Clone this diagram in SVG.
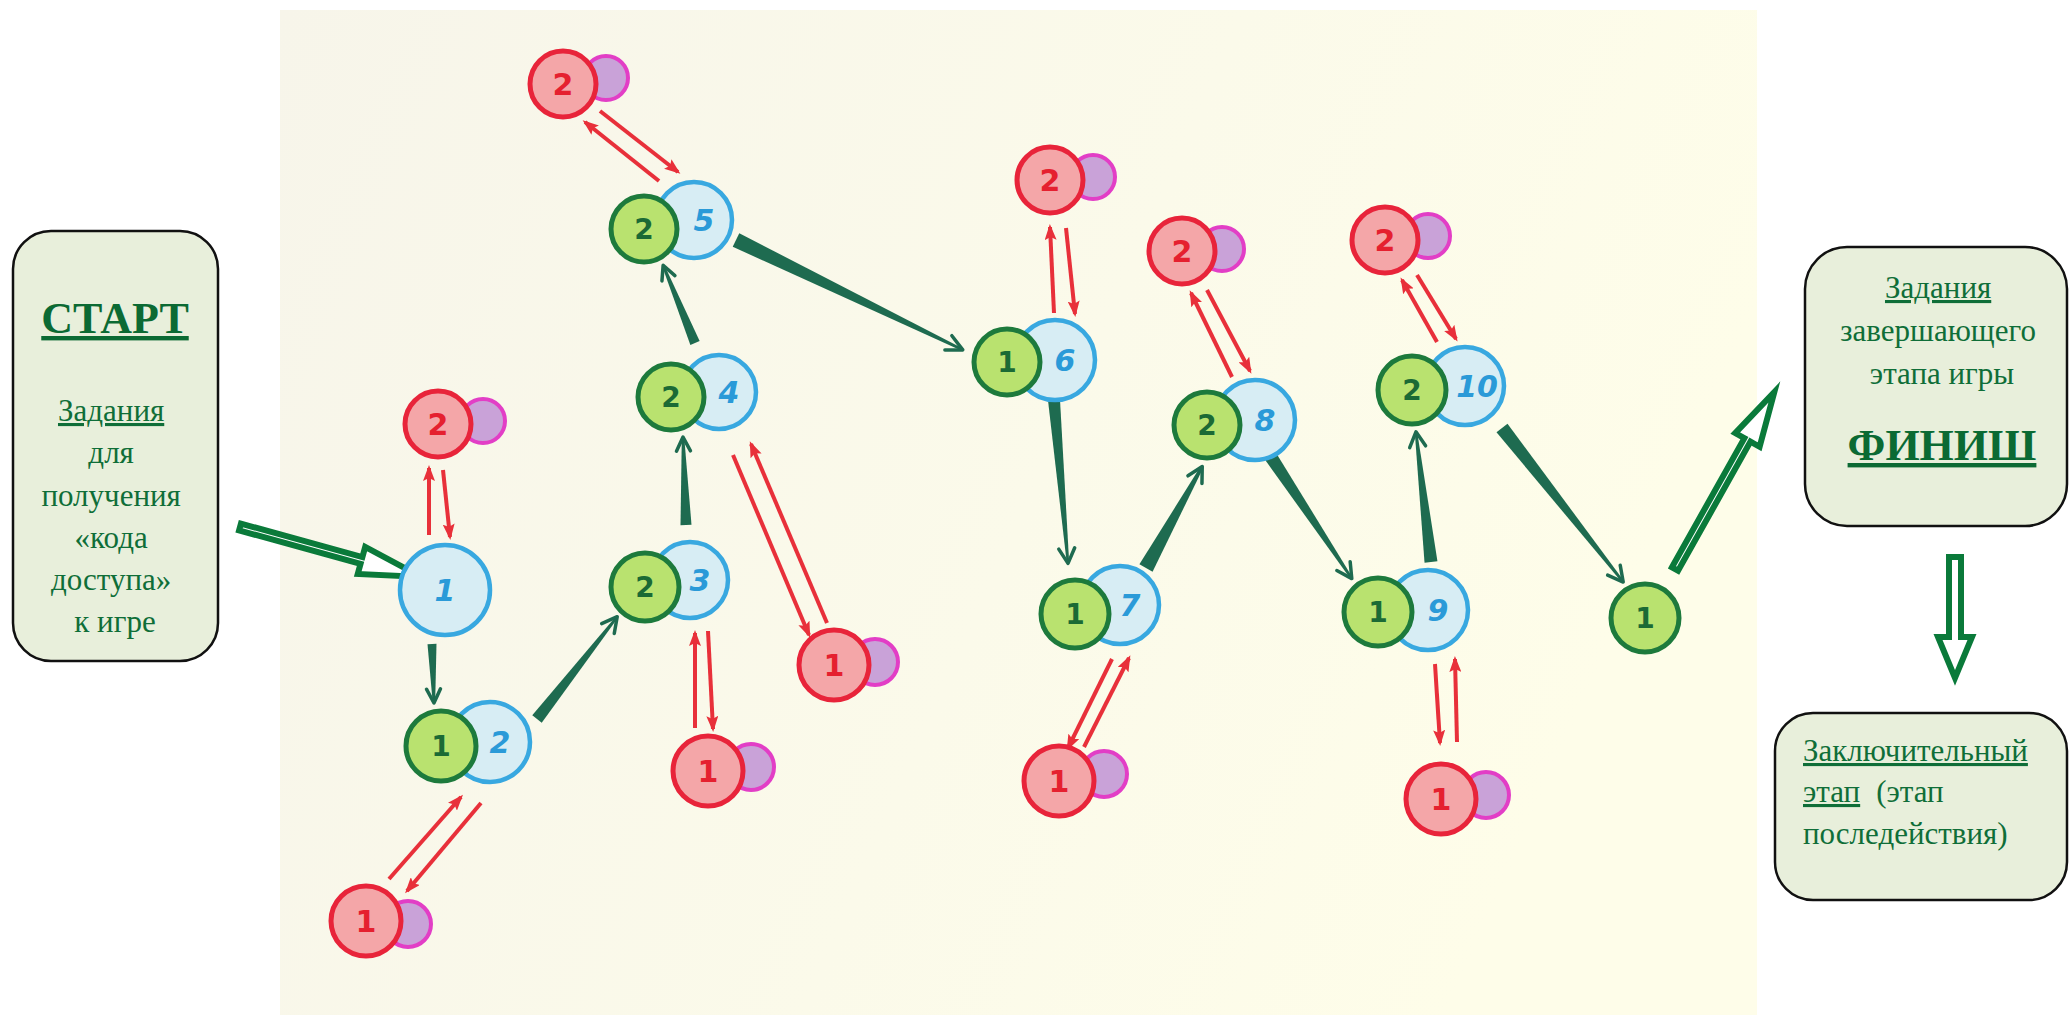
<svg xmlns="http://www.w3.org/2000/svg" width="2069" height="1015" viewBox="0 0 2069 1015">
<style>
.box{fill:#e8efdb;stroke:#111;stroke-width:2.5}
.txt{font-family:"Liberation Serif","Times New Roman",serif;fill:#0f6e38;font-size:31px}
.ttl{font-family:"Liberation Serif","Times New Roman",serif;fill:#0b6a33;font-size:44px;font-weight:bold;text-decoration:underline}
.red{fill:#f4a6a8;stroke:#e8243a;stroke-width:5}
.pur{fill:#c9a2d8;stroke:#e23ec6;stroke-width:4}
.grn{fill:#b9e26f;stroke:#1d7a3c;stroke-width:5}
.blu{fill:#d7edf4;stroke:#38a8e0;stroke-width:4.5}
.nr{font-family:"DejaVu Sans","Liberation Sans",sans-serif;font-weight:bold;font-size:30px;fill:#e5202f;text-anchor:middle}
.ng{font-family:"DejaVu Sans","Liberation Sans",sans-serif;font-weight:bold;font-size:28px;fill:#1b6a35;text-anchor:middle}
.nb{font-family:"DejaVu Sans","Liberation Sans",sans-serif;font-weight:bold;font-style:italic;font-size:30px;fill:#2a9ad8;text-anchor:middle}
.con path{fill:#1e6b50}
.con path.hd{fill:none;stroke:#1e6b50;stroke-width:3.5;stroke-linecap:round;stroke-linejoin:round}
.ra{stroke:#e8303a;stroke-width:4;fill:none;marker-end:url(#rh)}
.ho{fill:#fff;stroke:#0a7a3a;stroke-width:6;stroke-miterlimit:12;stroke-linejoin:miter}
</style>
<defs>
<marker id="rh" markerUnits="userSpaceOnUse" markerWidth="16" markerHeight="12" refX="13" refY="6" orient="auto">
<path d="M0,0 L16,6 L0,12 L3,6 Z" fill="#e8303a"/>
</marker>
<linearGradient id="paper" x1="0" y1="0" x2="1" y2="0.3">
<stop offset="0" stop-color="#f7f5ea"/>
<stop offset="0.6" stop-color="#fbfaea"/>
<stop offset="1" stop-color="#fefde9"/>
</linearGradient>
</defs>
<rect x="0" y="0" width="2069" height="1015" fill="#ffffff"/>
<rect x="280" y="10" width="1477" height="1005" fill="url(#paper)"/>

<g id="start-box">
<rect class="box" x="13" y="231" width="205" height="430" rx="38"/>
<text class="ttl" x="115" y="333" text-anchor="middle">СТАРТ</text>
<text class="txt" text-anchor="middle">
<tspan x="115" y="421" text-decoration="underline">Задания</tspan>
<tspan x="115" y="463">для</tspan>
<tspan x="115" y="506">получения</tspan>
<tspan x="115" y="548">«кода</tspan>
<tspan x="115" y="590">доступа»</tspan>
<tspan x="115" y="632">к игре</tspan>
</text>
</g>

<g id="finish-box">
<rect class="box" x="1805" y="247" width="262" height="279" rx="42"/>
<text class="txt" text-anchor="middle">
<tspan x="1942" y="298" text-decoration="underline">Задания</tspan>
<tspan x="1942" y="341">завершающего</tspan>
<tspan x="1942" y="384">этапа игры</tspan>
</text>
<text class="ttl" x="1942" y="460" text-anchor="middle">ФИНИШ</text>
</g>

<g id="final-stage-box">
<rect class="box" x="1775" y="713" width="292" height="187" rx="38"/>
<text class="txt">
<tspan x="1803" y="761" text-decoration="underline">Заключительный</tspan>
<tspan x="1803" y="802" text-decoration="underline">этап</tspan><tspan dx="16" y="802">(этап</tspan>
<tspan x="1803" y="844">последействия)</tspan>
</text>
</g>

<g id="connectors">
<g class="con">
<g transform="translate(432,644) rotate(88.1)"><path d="M0,-4.5 L59,-1.2 L59,1.2 L0,4.5 Z"/><path class="hd" d="M45,-7 L59,0 L45,7"/></g>
<g transform="translate(537,719) rotate(-51.9)"><path d="M0,-6 L130,-1.2 L130,1.2 L0,6 Z"/><path class="hd" d="M115,-8 L130,0 L115,8"/></g>
<g transform="translate(686,525) rotate(-91.95)"><path d="M0,-5.5 L88,-1.2 L88,1.2 L0,5.5 Z"/><path class="hd" d="M74,-7 L88,0 L74,7"/></g>
<g transform="translate(695,343) rotate(-112.3)"><path d="M0,-5 L84,-1.2 L84,1.2 L0,5 Z"/><path class="hd" d="M70,-7 L84,0 L70,7"/></g>
<g transform="translate(736,240) rotate(25.85)"><path d="M0,-7.5 L252,-1.2 L252,1.2 L0,7.5 Z"/><path class="hd" d="M236,-8 L252,0 L236,8"/></g>
<g transform="translate(1054,400) rotate(85.1)"><path d="M0,-6 L164,-1.2 L164,1.2 L0,6 Z"/><path class="hd" d="M149,-8 L164,0 L149,8"/></g>
<g transform="translate(1146,568) rotate(-61)"><path d="M0,-7.5 L116,-1.5 L116,1.5 L0,7.5 Z"/><path class="hd" d="M101,-8 L116,0 L101,8"/></g>
<g transform="translate(1271,457) rotate(56.4)"><path d="M0,-6.5 L146,-1.2 L146,1.2 L0,6.5 Z"/><path class="hd" d="M131,-8 L146,0 L131,8"/></g>
<g transform="translate(1431,562) rotate(-96.6)"><path d="M0,-6.5 L131,-1.2 L131,1.2 L0,6.5 Z"/><path class="hd" d="M116,-8 L131,0 L116,8"/></g>
<g transform="translate(1502,428) rotate(51.8)"><path d="M0,-7 L196,-1.2 L196,1.2 L0,7 Z"/><path class="hd" d="M181,-8 L196,0 L181,8"/></g>
</g>
<g id="red-arrows">
<path class="ra" d="M429,535 L429,468"/>
<path class="ra" d="M443,470 L450,537"/>
<path class="ra" d="M389,879 L461,797"/>
<path class="ra" d="M481,803 L407,891"/>
<path class="ra" d="M695,728 L695,633"/>
<path class="ra" d="M708,631 L713,729"/>
<path class="ra" d="M733,455 L809,635"/>
<path class="ra" d="M827,623 L751,444"/>
<path class="ra" d="M659,181 L585,122"/>
<path class="ra" d="M600,111 L678,172"/>
<path class="ra" d="M1054,313 L1050,227"/>
<path class="ra" d="M1066,228 L1075,314"/>
<path class="ra" d="M1112,659 L1068,748"/>
<path class="ra" d="M1084,747 L1129,658"/>
<path class="ra" d="M1232,377 L1191,293"/>
<path class="ra" d="M1207,290 L1250,371"/>
<path class="ra" d="M1435,664 L1440,743"/>
<path class="ra" d="M1457,742 L1455,659"/>
<path class="ra" d="M1437,342 L1402,280"/>
<path class="ra" d="M1417,275 L1456,339"/>
</g>
<g id="hollow-arrows">
<g transform="translate(240,527) rotate(15.4)"><path class="ho" d="M0,-3.5 L126,-3.5 L126,-14 L188,0 L126,14 L126,3.5 L0,3.5 Z"/></g>
<g transform="translate(1675,569) rotate(-60.7)"><path class="ho" d="M0,-3.5 L148,-3.5 L148,-14 L203,0 L148,14 L148,3.5 L0,3.5 Z"/></g>
<g transform="translate(1955,557) rotate(90)"><path class="ho" d="M0,-6 L80,-6 L80,-17 L121,0 L80,17 L80,6 L0,6 Z"/></g>
</g>
</g>

<g id="r2-top"><circle class="pur" cx="606" cy="78" r="22"/><circle class="red" cx="563" cy="84" r="33"/><text class="nr" x="563" y="95">2</text></g>
<g id="r2-left"><circle class="pur" cx="483" cy="421" r="22"/><circle class="red" cx="438" cy="424" r="33"/><text class="nr" x="438" y="435">2</text></g>
<g id="r1-bottom-left"><circle class="pur" cx="408" cy="924" r="23"/><circle class="red" cx="366" cy="921" r="35"/><text class="nr" x="366" y="932">1</text></g>
<g id="r1-n3"><circle class="pur" cx="751" cy="767" r="23"/><circle class="red" cx="708" cy="771" r="35"/><text class="nr" x="708" y="782">1</text></g>
<g id="r1-n4"><circle class="pur" cx="875" cy="662" r="23"/><circle class="red" cx="834" cy="665" r="35"/><text class="nr" x="834" y="676">1</text></g>
<g id="r2-n6"><circle class="pur" cx="1093" cy="177" r="22"/><circle class="red" cx="1050" cy="180" r="33"/><text class="nr" x="1050" y="191">2</text></g>
<g id="r1-n7"><circle class="pur" cx="1104" cy="774" r="23"/><circle class="red" cx="1059" cy="781" r="35"/><text class="nr" x="1059" y="792">1</text></g>
<g id="r2-n8"><circle class="pur" cx="1222" cy="249" r="22"/><circle class="red" cx="1182" cy="251" r="33"/><text class="nr" x="1182" y="262">2</text></g>
<g id="r2-n10"><circle class="pur" cx="1428" cy="236" r="22"/><circle class="red" cx="1385" cy="240" r="33"/><text class="nr" x="1385" y="251">2</text></g>
<g id="r1-n9"><circle class="pur" cx="1486" cy="795" r="23"/><circle class="red" cx="1441" cy="799" r="35"/><text class="nr" x="1441" y="810">1</text></g>

<g id="n1"><circle class="blu" cx="445" cy="590" r="45"/><text class="nb" x="445" y="601">1</text></g>
<g id="n2"><circle class="blu" cx="490" cy="742" r="40"/><circle class="grn" cx="441" cy="746" r="35"/><text class="ng" x="441" y="756">1</text><text class="nb" x="500" y="753">2</text></g>
<g id="n3"><circle class="blu" cx="690" cy="580" r="38"/><circle class="grn" cx="645" cy="587" r="34"/><text class="ng" x="645" y="597">2</text><text class="nb" x="700" y="591">3</text></g>
<g id="n4"><circle class="blu" cx="719" cy="392" r="37"/><circle class="grn" cx="671" cy="397" r="33"/><text class="ng" x="671" y="407">2</text><text class="nb" x="729" y="403">4</text></g>
<g id="n5"><circle class="blu" cx="694" cy="220" r="38"/><circle class="grn" cx="644" cy="229" r="33"/><text class="ng" x="644" y="239">2</text><text class="nb" x="704" y="231">5</text></g>
<g id="n6"><circle class="blu" cx="1055" cy="360" r="40"/><circle class="grn" cx="1007" cy="362" r="33"/><text class="ng" x="1007" y="372">1</text><text class="nb" x="1065" y="371">6</text></g>
<g id="n7"><circle class="blu" cx="1120" cy="605" r="39"/><circle class="grn" cx="1075" cy="614" r="34"/><text class="ng" x="1075" y="624">1</text><text class="nb" x="1130" y="616">7</text></g>
<g id="n8"><circle class="blu" cx="1255" cy="420" r="40"/><circle class="grn" cx="1207" cy="425" r="33"/><text class="ng" x="1207" y="435">2</text><text class="nb" x="1265" y="431">8</text></g>
<g id="n9"><circle class="blu" cx="1428" cy="610" r="40"/><circle class="grn" cx="1378" cy="612" r="34"/><text class="ng" x="1378" y="622">1</text><text class="nb" x="1438" y="621">9</text></g>
<g id="n10"><circle class="blu" cx="1465" cy="386" r="39"/><circle class="grn" cx="1412" cy="390" r="34"/><text class="ng" x="1412" y="400">2</text><text class="nb" x="1477" y="397" font-size="28">10</text></g>
<g id="final"><circle class="grn" cx="1645" cy="618" r="34"/><text class="ng" x="1645" y="628">1</text></g>
</svg>
